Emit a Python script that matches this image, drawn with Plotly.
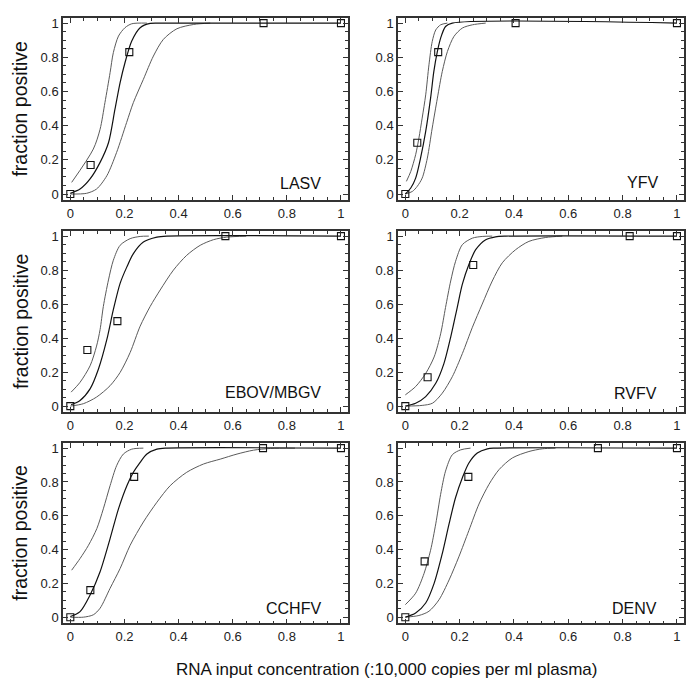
import plotly.graph_objects as go

# ---------------- data ----------------
PANELS = ["LASV", "YFV", "EBOV/MBGV", "RVFV", "CCHFV", "DENV"]

# observed fractions positive
LASV_X = [0, 0.075, 0.218, 0.714, 1]
LASV_Y = [0, 0.17, 0.83, 1, 1]
YFV_X = [0, 0.044, 0.121, 0.406, 1]
YFV_Y = [0, 0.30, 0.83, 1, 1]
EBOV_X = [0, 0.063, 0.174, 0.573, 1]
EBOV_Y = [0, 0.33, 0.50, 1, 1]
RVFV_X = [0, 0.082, 0.25, 0.826, 1]
RVFV_Y = [0, 0.17, 0.83, 1, 1]
CCHFV_X = [0, 0.074, 0.236, 0.712, 1]
CCHFV_Y = [0, 0.16, 0.83, 1, 1]
DENV_X = [0, 0.071, 0.232, 0.709, 1]
DENV_Y = [0, 0.33, 0.83, 1, 1]

# fitted curves (fit, upper and lower confidence limits)
LASV_FIT_X = [0, 0.036, 0.073, 0.11, 0.141, 0.165, 0.184, 0.202, 0.227, 0.258, 0.295, 0.33, 1]
LASV_FIT_Y = [0.004, 0.029, 0.088, 0.185, 0.30, 0.496, 0.652, 0.768, 0.895, 0.973, 0.998, 1, 1]
LASV_UP_X = [0.005, 0.085, 0.11, 0.128, 0.147, 0.159, 0.178, 0.202, 0.227, 0.283]
LASV_UP_Y = [0.068, 0.263, 0.379, 0.535, 0.71, 0.827, 0.924, 0.973, 0.996, 1]
LASV_LO_X = [0, 0.06, 0.097, 0.135, 0.171, 0.208, 0.233, 0.27, 0.307, 0.344, 0.394, 0.456, 0.517]
LASV_LO_Y = [0, 0.004, 0.029, 0.107, 0.243, 0.418, 0.535, 0.671, 0.807, 0.905, 0.967, 0.992, 1]

YFV_FIT_X = [0, 0.02, 0.038, 0.056, 0.075, 0.093, 0.105, 0.118, 0.13, 0.148, 0.173, 1]
YFV_FIT_Y = [0, 0.035, 0.093, 0.21, 0.366, 0.561, 0.717, 0.834, 0.912, 0.98, 1, 1]
YFV_UP_X = [0.004, 0.02, 0.038, 0.05, 0.062, 0.075, 0.087, 0.099, 0.112, 0.13, 0.155]
YFV_UP_Y = [0.074, 0.132, 0.23, 0.327, 0.444, 0.58, 0.756, 0.892, 0.96, 0.99, 1]
YFV_LO_X = [0, 0.026, 0.044, 0.062, 0.081, 0.099, 0.118, 0.136, 0.155, 0.179, 0.21, 0.247, 0.296]
YFV_LO_Y = [0, 0.015, 0.045, 0.093, 0.21, 0.386, 0.561, 0.717, 0.834, 0.922, 0.971, 0.99, 1]

EBOV_FIT_X = [0.003, 0.036, 0.073, 0.104, 0.135, 0.159, 0.184, 0.209, 0.233, 0.27, 0.32, 0.357, 1]
EBOV_FIT_Y = [0.008, 0.033, 0.101, 0.218, 0.392, 0.567, 0.722, 0.819, 0.897, 0.965, 0.994, 1, 1]
EBOV_UP_X = [0.003, 0.036, 0.073, 0.097, 0.11, 0.122, 0.141, 0.159, 0.184, 0.221, 0.258, 0.29]
EBOV_UP_Y = [0.082, 0.14, 0.237, 0.353, 0.45, 0.586, 0.742, 0.858, 0.946, 0.985, 0.998, 1]
EBOV_LO_X = [0, 0.048, 0.097, 0.147, 0.184, 0.221, 0.258, 0.295, 0.332, 0.381, 0.43, 0.48, 0.529, 0.578, 0.65]
EBOV_LO_Y = [0, 0.014, 0.053, 0.12, 0.198, 0.315, 0.47, 0.586, 0.683, 0.80, 0.887, 0.946, 0.979, 0.994, 1]

RVFV_FIT_X = [0, 0.038, 0.075, 0.112, 0.142, 0.167, 0.191, 0.21, 0.234, 0.259, 0.296, 0.332, 0.37, 1]
RVFV_FIT_Y = [0, 0.017, 0.056, 0.134, 0.25, 0.406, 0.58, 0.717, 0.833, 0.92, 0.979, 0.996, 1, 1]
RVFV_UP_X = [0, 0.038, 0.075, 0.106, 0.13, 0.148, 0.167, 0.185, 0.21, 0.247, 0.283, 0.32]
RVFV_UP_Y = [0.066, 0.115, 0.192, 0.289, 0.425, 0.58, 0.736, 0.852, 0.95, 0.988, 0.998, 1]
RVFV_LO_X = [0, 0.062, 0.10, 0.136, 0.173, 0.21, 0.247, 0.283, 0.32, 0.357, 0.406, 0.455, 0.517, 0.578]
RVFV_LO_Y = [0, 0.004, 0.017, 0.076, 0.173, 0.309, 0.464, 0.60, 0.736, 0.843, 0.92, 0.969, 0.992, 1]

CCHFV_FIT_X = [0, 0.036, 0.073, 0.11, 0.147, 0.178, 0.209, 0.233, 0.258, 0.283, 0.32, 0.357, 1]
CCHFV_FIT_Y = [0.004, 0.033, 0.131, 0.269, 0.465, 0.641, 0.778, 0.857, 0.916, 0.965, 0.994, 1, 1]
CCHFV_UP_X = [0.005, 0.036, 0.067, 0.098, 0.122, 0.147, 0.171, 0.196, 0.227, 0.27]
CCHFV_UP_Y = [0.278, 0.347, 0.425, 0.524, 0.641, 0.778, 0.896, 0.965, 0.994, 1]
CCHFV_LO_X = [0, 0.048, 0.085, 0.11, 0.147, 0.184, 0.221, 0.27, 0.32, 0.369, 0.43, 0.492, 0.554, 0.616, 0.677, 0.739, 0.83]
CCHFV_LO_Y = [0, 0, 0.014, 0.053, 0.171, 0.288, 0.425, 0.563, 0.68, 0.778, 0.857, 0.906, 0.935, 0.965, 0.988, 0.998, 1]

DENV_FIT_X = [0, 0.038, 0.075, 0.106, 0.136, 0.161, 0.185, 0.21, 0.234, 0.265, 0.302, 0.33, 1]
DENV_FIT_Y = [0, 0.025, 0.084, 0.20, 0.376, 0.552, 0.708, 0.825, 0.912, 0.971, 0.996, 1, 1]
DENV_UP_X = [0, 0.038, 0.069, 0.093, 0.112, 0.13, 0.148, 0.173, 0.204, 0.24]
DENV_UP_Y = [0.074, 0.142, 0.259, 0.396, 0.552, 0.727, 0.864, 0.961, 0.99, 1]
DENV_LO_X = [0, 0.05, 0.087, 0.124, 0.161, 0.197, 0.234, 0.271, 0.308, 0.345, 0.394, 0.455, 0.504, 0.553]
DENV_LO_Y = [0, 0.01, 0.035, 0.103, 0.22, 0.357, 0.513, 0.669, 0.786, 0.873, 0.942, 0.98, 0.996, 1]

X_TICKS = [0, 0.2, 0.4, 0.6, 0.8, 1]
Y_TICKS = [0, 0.2, 0.4, 0.6, 0.8, 1]
Y_TITLE = "fraction positive"
X_TITLE = "RNA input concentration (:10,000 copies per ml plasma)"

SERIES = [
    (LASV_X, LASV_Y, LASV_FIT_X, LASV_FIT_Y, LASV_UP_X, LASV_UP_Y, LASV_LO_X, LASV_LO_Y),
    (YFV_X, YFV_Y, YFV_FIT_X, YFV_FIT_Y, YFV_UP_X, YFV_UP_Y, YFV_LO_X, YFV_LO_Y),
    (EBOV_X, EBOV_Y, EBOV_FIT_X, EBOV_FIT_Y, EBOV_UP_X, EBOV_UP_Y, EBOV_LO_X, EBOV_LO_Y),
    (RVFV_X, RVFV_Y, RVFV_FIT_X, RVFV_FIT_Y, RVFV_UP_X, RVFV_UP_Y, RVFV_LO_X, RVFV_LO_Y),
    (CCHFV_X, CCHFV_Y, CCHFV_FIT_X, CCHFV_FIT_Y, CCHFV_UP_X, CCHFV_UP_Y, CCHFV_LO_X, CCHFV_LO_Y),
    (DENV_X, DENV_Y, DENV_FIT_X, DENV_FIT_Y, DENV_UP_X, DENV_UP_Y, DENV_LO_X, DENV_LO_Y),
]

# ---------------- layout geometry ----------------
# the page body has an 8px margin, so the figure is made 8px smaller and
# all target pixel positions are shifted by that offset
OFF = 8
W, H = 696 - OFF, 684 - OFF


def xp(px):
    return (px - OFF) / W


def yp(py):
    return 1 - (py - OFF) / H


COL_DOM = [[xp(63), xp(348)], [xp(398), xp(684)]]
ROW_DOM = [[yp(199), yp(16)], [yp(412), yp(230)], [yp(624), yp(443)]]
LABEL_POS = [(0.935, 0.06), (0.936, 0.066), (0.935, 0.08), (0.933, 0.072), (0.935, 0.053), (0.933, 0.054)]
X_RANGE = [-0.027, 1.026]
Y_RANGE = [-0.036, 1.03]

FONT = "Arial, Liberation Sans, sans-serif"

fig = go.Figure()
layout = dict(
    width=W, height=H,
    margin=dict(l=0, r=0, t=0, b=0),
    paper_bgcolor="white", plot_bgcolor="white",
    showlegend=False,
    font=dict(family=FONT, color="#222"),
)
annotations = []

tick_common = dict(showgrid=False, zeroline=False, showline=True, linecolor="#333", linewidth=1.5,
                   ticks="inside", ticklen=5, tickwidth=1, tickcolor="#333",
                   tickfont=dict(size=13, family=FONT, color="#222"),
                   minor=dict(ticks="inside", ticklen=3, tickwidth=1, tickcolor="#333", dtick=0.05))

for i, (name, s) in enumerate(zip(PANELS, SERIES)):
    r, c = divmod(i, 2)
    idx = "" if i == 0 else str(i + 1)
    oidx = str(i + 7)
    xa, ya = "x" + idx, "y" + idx
    xo, yo = "x" + oidx, "y" + oidx
    px, py, fx, fy, ux, uy, lx, ly = s
    for cx, cy, col, w in [(ux, uy, "#5a5a5a", 1.0), (lx, ly, "#5a5a5a", 1.0), (fx, fy, "#111111", 1.2)]:
        fig.add_trace(go.Scatter(x=cx, y=cy, mode="lines", xaxis=xa, yaxis=ya,
                                 line=dict(color=col, width=w, shape="spline", smoothing=0.8),
                                 hoverinfo="skip"))
    fig.add_trace(go.Scatter(x=px, y=py, mode="markers", xaxis=xa, yaxis=ya,
                             marker=dict(symbol="square-open", size=7, color="#111",
                                         line=dict(width=1.1, color="#111"))))
    # invisible trace so that the mirrored (top / right) axes are drawn
    fig.add_trace(go.Scatter(x=[None], y=[None], mode="markers", xaxis=xo, yaxis=yo,
                             hoverinfo="skip", showlegend=False))

    layout["xaxis" + idx] = dict(domain=COL_DOM[c], range=X_RANGE, tickvals=X_TICKS,
                                 anchor=ya, side="bottom", **tick_common)
    layout["yaxis" + idx] = dict(domain=ROW_DOM[r], range=Y_RANGE, tickvals=Y_TICKS,
                                 anchor=xa, side="left", **tick_common)
    layout["xaxis" + oidx] = dict(domain=COL_DOM[c], range=X_RANGE, tickvals=X_TICKS,
                                  overlaying=xa, anchor=yo, side="top", showticklabels=False,
                                  **tick_common)
    layout["yaxis" + oidx] = dict(domain=ROW_DOM[r], range=Y_RANGE, tickvals=Y_TICKS,
                                  overlaying=ya, anchor=xo, side="right", showticklabels=False,
                                  **tick_common)
    lx_, ly_ = LABEL_POS[i]
    annotations.append(dict(text=name, x=lx_, y=ly_, xref=xa, yref=ya, xanchor="right", yanchor="middle",
                            showarrow=False, font=dict(size=16, family=FONT, color="#111")))

for r in range(3):
    annotations.append(dict(text=Y_TITLE, x=xp(20.5), y=sum(ROW_DOM[r]) / 2, xref="paper", yref="paper",
                            textangle=-90, showarrow=False, xanchor="center", yanchor="middle",
                            borderpad=0,
                            font=dict(size=19.5, family=FONT, color="#111")))
annotations.append(dict(text=X_TITLE, x=xp(386), y=yp(670), xref="paper", yref="paper",
                        showarrow=False, xanchor="center", yanchor="middle",
                        font=dict(size=17, family=FONT, color="#111")))
layout["annotations"] = annotations
fig.update_layout(**layout)
fig.write_html("out.html")
